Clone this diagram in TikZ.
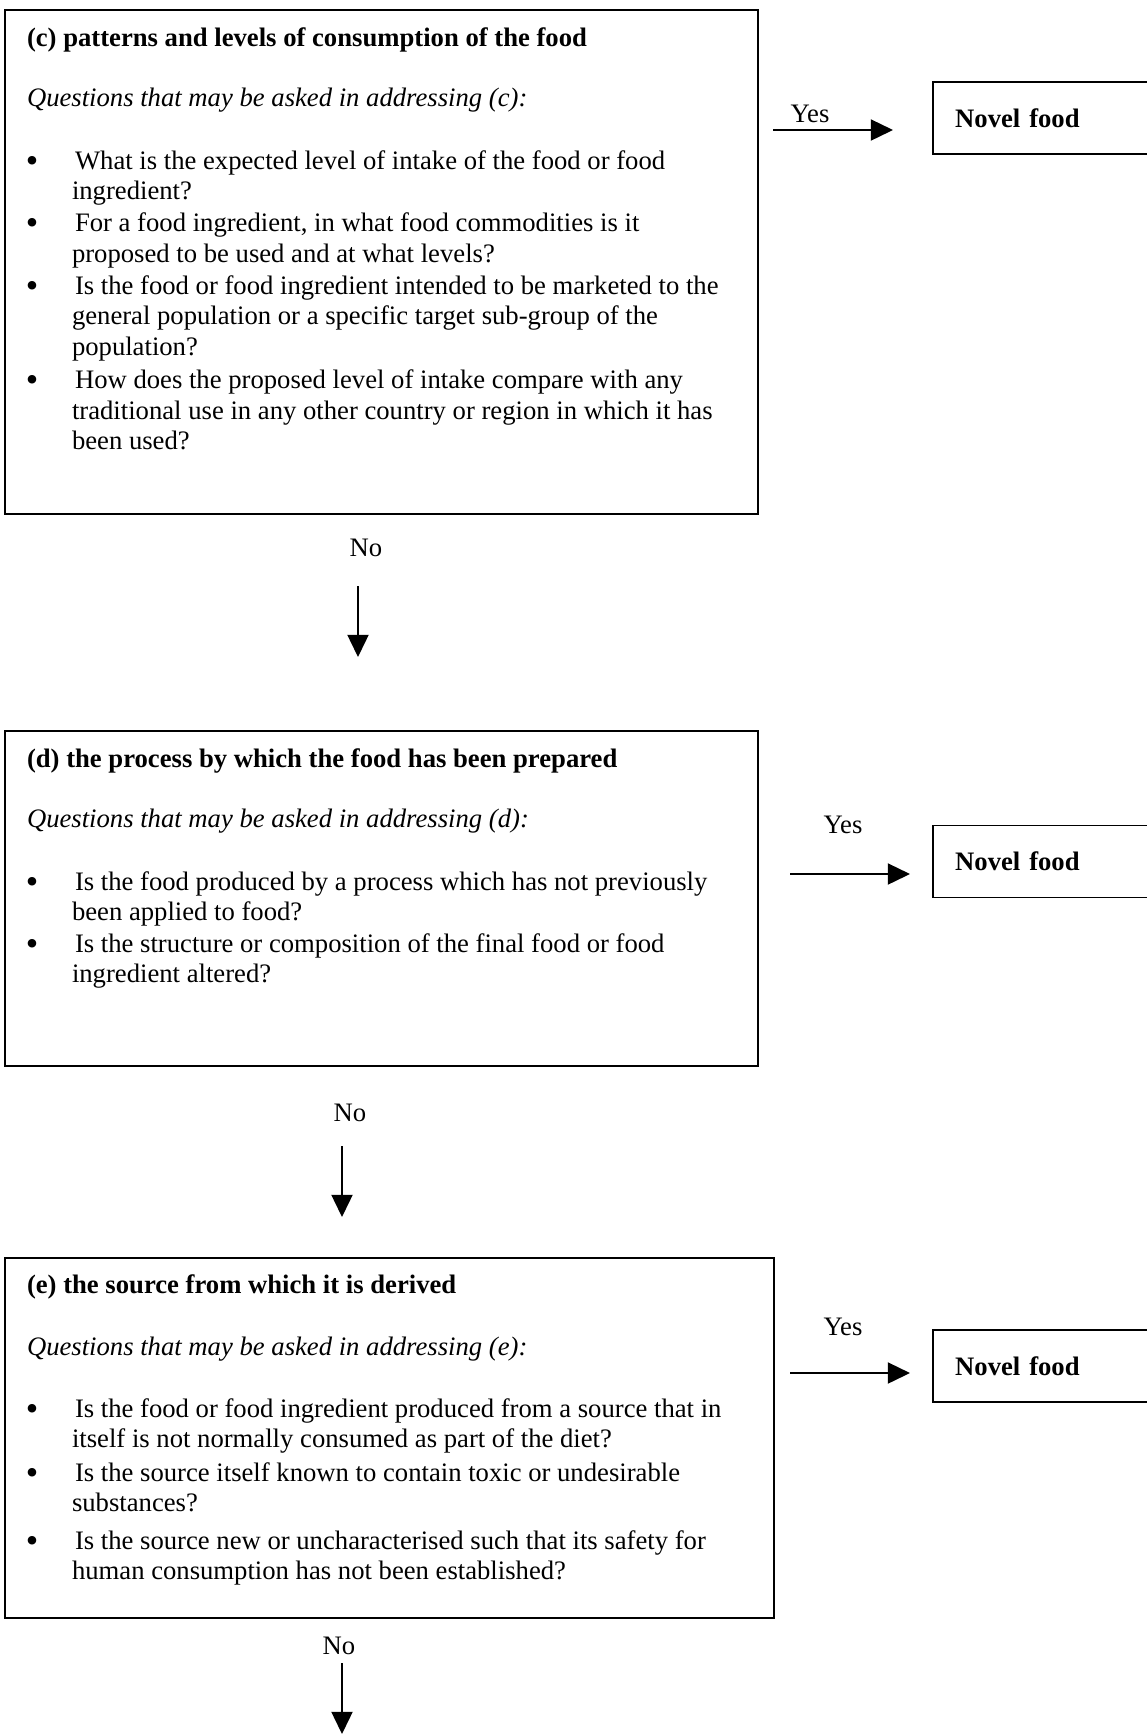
\documentclass[tikz,border=0pt]{standalone}
\usepackage{fontspec}
\setmainfont{Liberation Serif}
\usetikzlibrary{arrows.meta}
\begin{document}
\begin{tikzpicture}[x=0.45pt,y=-0.45pt,
  every node/.style={font=\fontsize{12pt}{13.8pt}\selectfont, inner sep=0pt, outer sep=0pt},
  qbox/.style={draw, line width=0.8pt, anchor=north west},
  novelbox/.style={draw, line width=0.8pt, anchor=west, minimum width=108pt, minimum height=32.4pt, text width=88pt, inner xsep=10pt, align=left, font=\fontsize{12pt}{13.8pt}\selectfont\bfseries},
  ttl/.style={anchor=base west, font=\fontsize{12pt}{13.8pt}\selectfont\bfseries},
  qst/.style={anchor=base west, font=\fontsize{12pt}{13.8pt}\selectfont\itshape},
  txt/.style={anchor=base west},
  bul/.style={anchor=base, yshift=-1.4pt, font=\fontsize{16pt}{16pt}\selectfont},
  lbl/.style={anchor=base},
  arr/.style={-{Triangle[length=10pt,width=9.5pt]}, line width=0.8pt}
]
\useasboundingbox (0,0) rectangle (1147,1736);
\clip (0,0) rectangle (1147,1736);
\fill[white] (0,0) rectangle (1147,1736);

% ---------- box (c)
\node[qbox, minimum width=338.85pt, minimum height=226.8pt] (boxc) at (5,10) {};
\node[ttl] (ct) at (27,46) {(c) patterns and levels of consumption of the food};
\node[qst] (cq) at (27,106) {Questions that may be asked in addressing (c):};
\node[bul] (cb1) at (32,169) {•};
\node[bul] (cb2) at (32,231) {•};
\node[bul] (cb3) at (32,294) {•};
\node[bul] (cb4) at (32,388) {•};
\node[txt] (c1) at (75,169) {What is the expected level of intake of the food or food};
\node[txt] (c2) at (72,199) {ingredient?};
\node[txt] (c3) at (75,231) {For a food ingredient, in what food commodities is it};
\node[txt] (c4) at (72,262) {proposed to be used and at what levels?};
\node[txt] (c5) at (75,294) {Is the food or food ingredient intended to be marketed to the};
\node[txt] (c6) at (72,324) {general population or a specific target sub-group of the};
\node[txt] (c7) at (72,355) {population?};
\node[txt] (c8) at (75,388) {How does the proposed level of intake compare with any};
\node[txt] (c9) at (72,419) {traditional use in any other country or region in which it has};
\node[txt] (c10) at (72,449) {been used?};

\node[novelbox] (n1) at (933,118) {Novel food};
\coordinate (y1s) at (773,130);
\coordinate (y1e) at (893,130);
\draw[arr] (y1s) -- (y1e);
\node[lbl] (yes1) at (810,122) {Yes};

\node[lbl] (no1) at (366,556) {No};
\coordinate (a1s) at (358,586);
\coordinate (a1e) at (358,657);
\draw[arr] (a1s) -- (a1e);

% ---------- box (d)
\node[qbox, minimum width=338.85pt, minimum height=150.75pt] (boxd) at (5,731) {};
\node[ttl] (dt) at (27,767) {(d) the process by which the food has been prepared};
\node[qst] (dq) at (27,827) {Questions that may be asked in addressing (d):};
\node[bul] (db1) at (32,890) {•};
\node[bul] (db2) at (32,952) {•};
\node[txt] (d1) at (75,890) {Is the food produced by a process which has not previously};
\node[txt] (d2) at (72,920) {been applied to food?};
\node[txt] (d3) at (75,952) {Is the structure or composition of the final food or food};
\node[txt] (d4) at (72,982) {ingredient altered?};

\node[novelbox] (n2) at (933,861.5) {Novel food};
\coordinate (y2s) at (790,874);
\coordinate (y2e) at (910,874);
\draw[arr] (y2s) -- (y2e);
\node[lbl] (yes2) at (843,833) {Yes};

\node[lbl] (no2) at (350,1121) {No};
\coordinate (a2s) at (342,1146);
\coordinate (a2e) at (342,1217);
\draw[arr] (a2s) -- (a2e);

% ---------- box (e)
\node[qbox, minimum width=346.05pt, minimum height=162pt] (boxe) at (5,1258) {};
\node[ttl] (et) at (27,1293) {(e) the source from which it is derived};
\node[qst] (eq) at (27,1355) {Questions that may be asked in addressing (e):};
\node[bul] (eb1) at (32,1417) {•};
\node[bul] (eb2) at (32,1481) {•};
\node[bul] (eb3) at (32,1549) {•};
\node[txt] (e1) at (75,1417) {Is the food or food ingredient produced from a source that in};
\node[txt] (e2) at (72,1447) {itself is not normally consumed as part of the diet?};
\node[txt] (e3) at (75,1481) {Is the source itself known to contain toxic or undesirable};
\node[txt] (e4) at (72,1511) {substances?};
\node[txt] (e5) at (75,1549) {Is the source new or uncharacterised such that its safety for};
\node[txt] (e6) at (72,1579) {human consumption has not been established?};

\node[novelbox] (n3) at (933,1366) {Novel food};
\coordinate (y3s) at (790,1373);
\coordinate (y3e) at (910,1373);
\draw[arr] (y3s) -- (y3e);
\node[lbl] (yes3) at (843,1335) {Yes};

\node[lbl] (no3) at (339,1654) {No};
\coordinate (a3s) at (342,1663);
\coordinate (a3e) at (342,1734);
\draw[arr] (a3s) -- (a3e);
\end{tikzpicture}
\end{document}
